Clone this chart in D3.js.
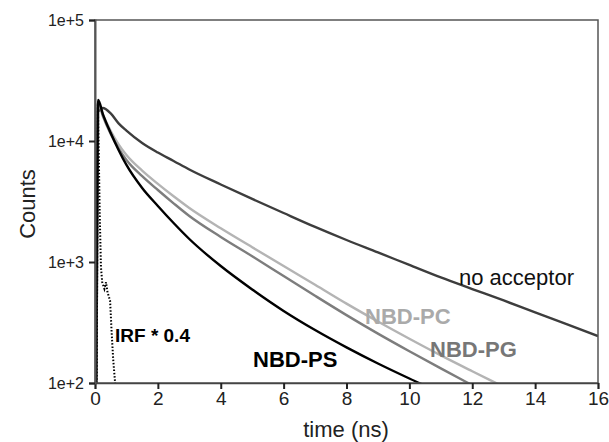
<!DOCTYPE html>
<html>
<head>
<meta charset="utf-8">
<script src="https://cdn.jsdelivr.net/npm/d3@7"></script>
<style>
  body { margin: 0; background: #fff; }
  text { font-family: "Liberation Sans", Arial, sans-serif; }
</style>
</head>
<body>
<script>
// decay curves (time in ns, counts)
var decayTimes = [0.03, 0.1, 0.25, 0.5, 0.75, 1, 1.5, 2, 2.5, 3, 4, 5, 6, 7, 8, 9, 10, 11, 12, 13, 14, 15, 16];
var noAcceptor = [40, 17400, 18750, 16900, 14000, 12200, 9630, 8030, 6840, 5810, 4370, 3320, 2540, 1950, 1520, 1200, 945, 745, 598, 481, 383, 306, 244];
var nbdPC = [40, 20900, 16560, 12110, 9390, 7660, 5690, 4420, 3490, 2795, 1900, 1325, 926, 649, 453, 322, 232, 169, 125, 93, 69, 50, 37];
var nbdPG = [40, 20900, 16100, 11450, 8710, 6970, 5120, 3935, 3055, 2400, 1612, 1117, 766, 526, 364, 256, 183, 132, 96, 70, 51, 40, 30];
var nbdPS = [40, 21800, 16700, 11640, 8430, 6340, 4090, 2905, 2100, 1549, 926, 593, 394, 274, 197, 145, 109, 83, 63, 50, 40, 32, 25];

var irfTimes = [0.05, 0.09, 0.12, 0.15, 0.19, 0.23, 0.3, 0.35, 0.4, 0.48, 0.53, 0.58, 0.64, 0.7];
var irf = [50, 20600, 8000, 2500, 900, 680, 600, 680, 560, 480, 260, 155, 100, 80];

var xTicks = [0, 2, 4, 6, 8, 10, 12, 14, 16];
var yTicks = [100, 1000, 10000, 100000];
var yTickLabels = ["1e+2", "1e+3", "1e+4", "1e+5"];

var margin = { top: 20, right: 11, bottom: 59, left: 95 },
    width = 609 - margin.left - margin.right,
    height = 442 - margin.top - margin.bottom;

var svg = d3.select("body").append("svg")
    .attr("width", 609)
    .attr("height", 442);

var g = svg.append("g")
    .attr("transform", "translate(" + margin.left + "," + margin.top + ")");

var x = d3.scaleLinear().domain([0, 16]).range([0, width]);
var y = d3.scaleLog().domain([100, 100000]).range([height, 0]);

svg.append("defs").append("clipPath").attr("id", "plot")
    .append("rect").attr("width", width).attr("height", height);

var line = d3.line()
    .x(function (d) { return x(d[0]); })
    .y(function (d) { return y(d[1]); })
    .curve(d3.curveMonotoneX);

var series = [
    { values: noAcceptor, color: "#3d3d3d" },
    { values: nbdPC, color: "#b4b4b4" },
    { values: nbdPG, color: "#7d7d7d" },
    { values: nbdPS, color: "#000" }
];

var plot = g.append("g").attr("clip-path", "url(#plot)");

series.forEach(function (s) {
    plot.append("path")
        .datum(decayTimes.map(function (t, i) { return [t, s.values[i]]; }))
        .attr("d", line)
        .attr("fill", "none")
        .attr("stroke", s.color)
        .attr("stroke-width", 2.4);
});

plot.append("path")
    .datum(irfTimes.map(function (t, i) { return [t, irf[i]]; }))
    .attr("d", d3.line().x(function (d) { return x(d[0]); }).y(function (d) { return y(d[1]); }))
    .attr("fill", "none")
    .attr("stroke", "#000")
    .attr("stroke-width", 2)
    .attr("stroke-dasharray", "1.5,1.8");

// frame
g.append("rect")
    .attr("width", width).attr("height", height)
    .attr("fill", "none")
    .attr("stroke", "#555")
    .attr("stroke-width", 1.5);

var xAxis = g.append("g")
    .attr("transform", "translate(0," + height + ")")
    .call(d3.axisBottom(x).tickValues(xTicks).tickSize(6).tickPadding(3).tickFormat(d3.format("d")));
xAxis.select(".domain").attr("stroke", "#444").attr("stroke-width", 1.5);
xAxis.selectAll(".tick line").attr("stroke", "#222").attr("stroke-width", 2);
xAxis.selectAll("text").attr("font-size", 19).attr("fill", "#222");

var yAxis = g.append("g")
    .call(d3.axisLeft(y).tickValues(yTicks).tickSize(6).tickPadding(5)
        .tickFormat(function (d, i) { return yTickLabels[i]; }));
yAxis.select(".domain").attr("stroke", "#555").attr("stroke-width", 2);
yAxis.selectAll(".tick line").attr("stroke", "#222").attr("stroke-width", 2);
yAxis.selectAll("text").attr("font-size", 16).attr("fill", "#222");

svg.append("text")
    .attr("x", 346).attr("y", 437)
    .attr("text-anchor", "middle")
    .attr("font-size", 22)
    .attr("fill", "#222")
    .text("time (ns)");

svg.append("text")
    .attr("transform", "translate(35,204) rotate(-90)")
    .attr("text-anchor", "middle")
    .attr("font-size", 22)
    .attr("fill", "#222")
    .text("Counts");

// curve labels
var labels = [
    { text: "no acceptor", x: 459, y: 285, size: 22, weight: "normal", color: "#111" },
    { text: "NBD-PC", x: 365, y: 324, size: 22, weight: "bold", color: "#aaa" },
    { text: "NBD-PG", x: 430, y: 357, size: 22, weight: "bold", color: "#777" },
    { text: "NBD-PS", x: 253, y: 367, size: 22, weight: "bold", color: "#000" },
    { text: "IRF * 0.4", x: 115, y: 342, size: 19, weight: "bold", color: "#000" }
];

svg.selectAll(".label")
    .data(labels)
    .enter().append("text")
    .attr("class", "label")
    .attr("x", function (d) { return d.x; })
    .attr("y", function (d) { return d.y; })
    .attr("font-size", function (d) { return d.size; })
    .attr("font-weight", function (d) { return d.weight; })
    .attr("fill", function (d) { return d.color; })
    .text(function (d) { return d.text; });
</script>
</body>
</html>
